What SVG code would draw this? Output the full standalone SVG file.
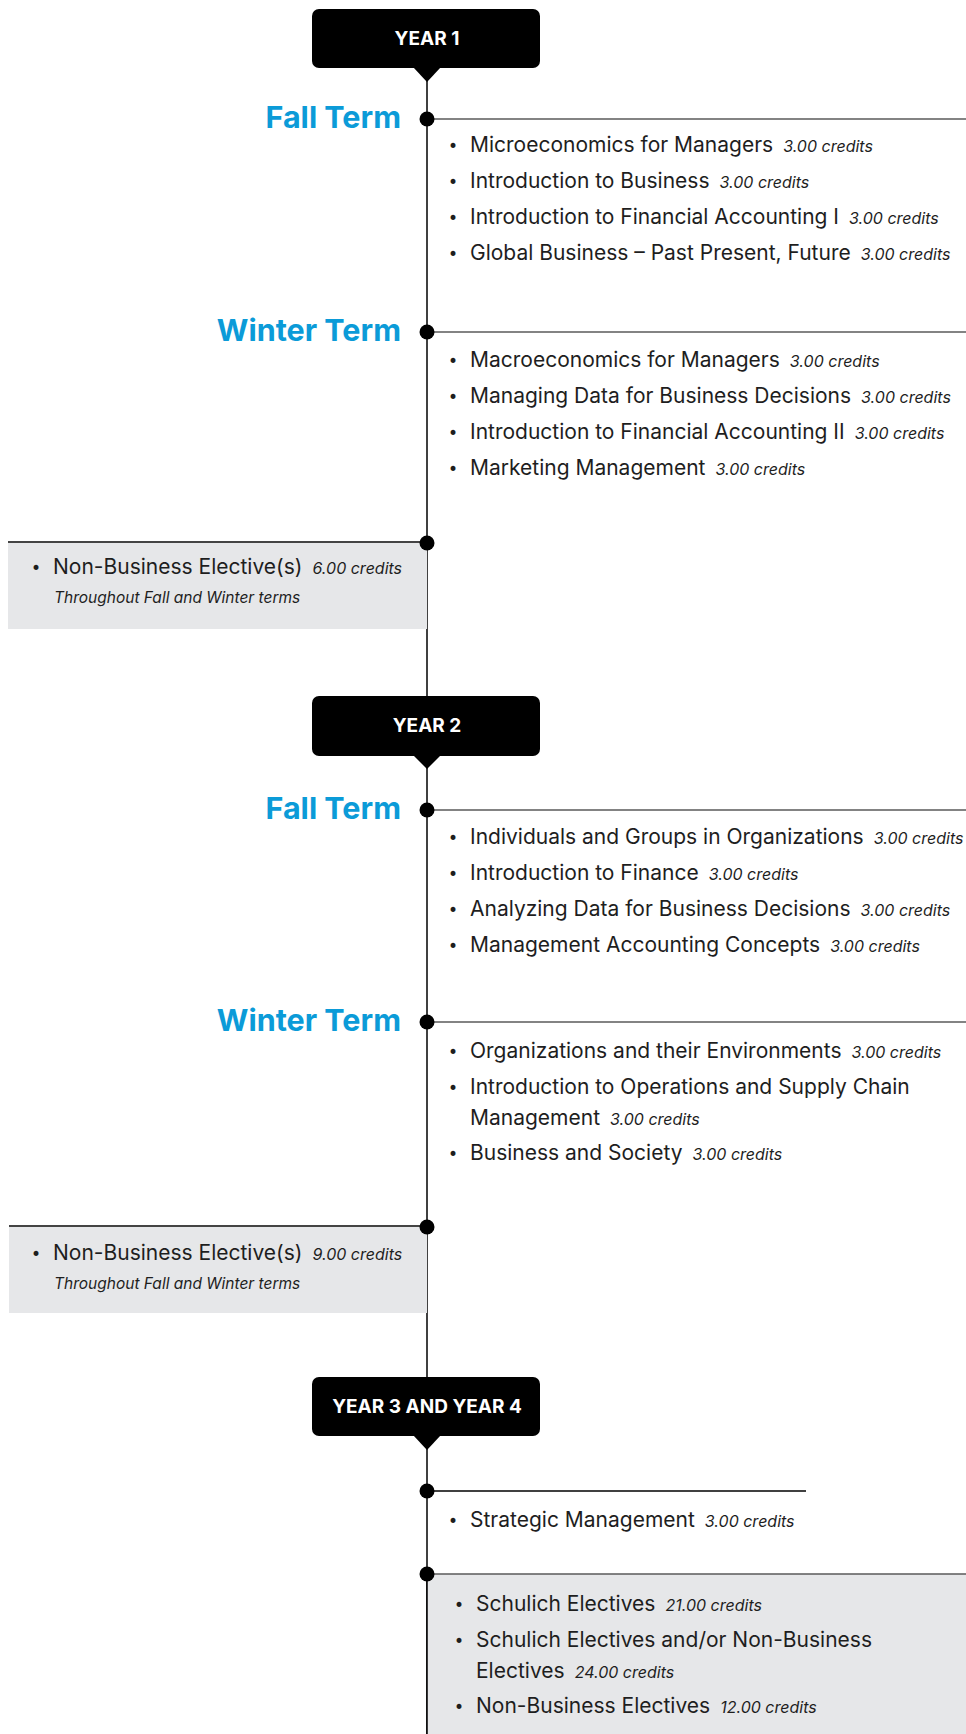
<svg xmlns="http://www.w3.org/2000/svg" width="966" height="1734" viewBox="0 0 966 1734">
<defs>
<style>
.it{font-family:Inter,"Noto Sans","Liberation Sans",sans-serif;font-size:21px;fill:#1e1e1e}
.cr{font-style:italic;font-size:16px}
.sub{font-family:Inter,"Noto Sans","Liberation Sans",sans-serif;font-style:italic;font-size:15.5px;fill:#1e1e1e}
.bu{font-family:"DejaVu Sans",sans-serif;font-size:17px;fill:#1e1e1e}
.term{font-family:Inter,"Noto Sans","Liberation Sans",sans-serif;font-weight:700;font-size:30.5px;fill:#0b9bd8;text-anchor:end}
.yr{font-family:Inter,"Noto Sans","Liberation Sans",sans-serif;font-weight:700;font-size:19px;fill:#fff;text-anchor:middle}
.hl{stroke:#5a5a5a;stroke-width:1.6;fill:none}
.dot{fill:#000}
.box{fill:#e6e7e9}
.tag{fill:#000}
</style>
</defs>
<g id="connectors">
<line x1="427" y1="68" x2="427" y2="1734" stroke="#000" stroke-width="1.5"/>
<line class="hl" x1="427" y1="119" x2="966" y2="119"/>
<line class="hl" x1="427" y1="332" x2="966" y2="332"/>
<line class="hl" x1="427" y1="810" x2="966" y2="810"/>
<line class="hl" x1="427" y1="1022" x2="966" y2="1022"/>
<line x1="427" y1="1491" x2="806" y2="1491" stroke="#000" stroke-width="1.3"/>
</g>
<g id="year1">
<rect class="tag" x="312" y="9" width="228" height="59" rx="7"/>
<polygon class="tag" points="413,67 441,67 427,82"/>
<text class="yr" x="427" y="45">YEAR 1</text>
</g>
<g id="y1-fall">
<circle class="dot" cx="427" cy="119" r="7.5"/>
<text class="term" x="401" y="128">Fall Term</text>
<text class="bu" x="448" y="152">•</text>
<text class="it" x="470" y="152">Microeconomics for Managers<tspan class="cr" dx="10">3.00 credits</tspan></text>
<text class="bu" x="448" y="188">•</text>
<text class="it" x="470" y="188">Introduction to Business<tspan class="cr" dx="10">3.00 credits</tspan></text>
<text class="bu" x="448" y="224">•</text>
<text class="it" x="470" y="224">Introduction to Financial Accounting I<tspan class="cr" dx="10">3.00 credits</tspan></text>
<text class="bu" x="448" y="260">•</text>
<text class="it" x="470" y="260">Global Business – Past Present, Future<tspan class="cr" dx="10">3.00 credits</tspan></text>
</g>
<g id="y1-winter">
<circle class="dot" cx="427" cy="332" r="7.5"/>
<text class="term" x="401" y="341">Winter Term</text>
<text class="bu" x="448" y="367">•</text>
<text class="it" x="470" y="367">Macroeconomics for Managers<tspan class="cr" dx="10">3.00 credits</tspan></text>
<text class="bu" x="448" y="403">•</text>
<text class="it" x="470" y="403">Managing Data for Business Decisions<tspan class="cr" dx="10">3.00 credits</tspan></text>
<text class="bu" x="448" y="439">•</text>
<text class="it" x="470" y="439">Introduction to Financial Accounting II<tspan class="cr" dx="10">3.00 credits</tspan></text>
<text class="bu" x="448" y="475">•</text>
<text class="it" x="470" y="475">Marketing Management<tspan class="cr" dx="10">3.00 credits</tspan></text>
</g>
<g id="y1-nonbusiness">
<rect class="box" x="8" y="542" width="419" height="87"/>
<line x1="8" y1="542" x2="427" y2="542" stroke="#444" stroke-width="2"/>
<circle class="dot" cx="427" cy="543" r="7.5"/>
<text class="bu" x="31" y="574">•</text>
<text class="it" x="53" y="574">Non-Business Elective(s)<tspan class="cr" dx="10">6.00 credits</tspan></text>
<text class="sub" x="54" y="603">Throughout Fall and Winter terms</text>
</g>
<g id="year2">
<rect class="tag" x="312" y="696" width="228" height="60" rx="7"/>
<polygon class="tag" points="413,755 441,755 427,769"/>
<text class="yr" x="427" y="732">YEAR 2</text>
</g>
<g id="y2-fall">
<circle class="dot" cx="427" cy="810" r="7.5"/>
<text class="term" x="401" y="819">Fall Term</text>
<text class="bu" x="448" y="844">•</text>
<text class="it" x="470" y="844">Individuals and Groups in Organizations<tspan class="cr" dx="10">3.00 credits</tspan></text>
<text class="bu" x="448" y="880">•</text>
<text class="it" x="470" y="880">Introduction to Finance<tspan class="cr" dx="10">3.00 credits</tspan></text>
<text class="bu" x="448" y="916">•</text>
<text class="it" x="470" y="916">Analyzing Data for Business Decisions<tspan class="cr" dx="10">3.00 credits</tspan></text>
<text class="bu" x="448" y="952">•</text>
<text class="it" x="470" y="952">Management Accounting Concepts<tspan class="cr" dx="10">3.00 credits</tspan></text>
</g>
<g id="y2-winter">
<circle class="dot" cx="427" cy="1022" r="7.5"/>
<text class="term" x="401" y="1031">Winter Term</text>
<text class="bu" x="448" y="1058">•</text>
<text class="it" x="470" y="1058">Organizations and their Environments<tspan class="cr" dx="10">3.00 credits</tspan></text>
<text class="bu" x="448" y="1094">•</text>
<text class="it" x="470" y="1094">Introduction to Operations and Supply Chain</text>
<text class="it" x="470" y="1125">Management<tspan class="cr" dx="10">3.00 credits</tspan></text>
<text class="bu" x="448" y="1160">•</text>
<text class="it" x="470" y="1160">Business and Society<tspan class="cr" dx="10">3.00 credits</tspan></text>
</g>
<g id="y2-nonbusiness">
<rect class="box" x="9" y="1226" width="418" height="87"/>
<line x1="9" y1="1226" x2="427" y2="1226" stroke="#444" stroke-width="2"/>
<circle class="dot" cx="427" cy="1227" r="7.5"/>
<text class="bu" x="31" y="1260">•</text>
<text class="it" x="53" y="1260">Non-Business Elective(s)<tspan class="cr" dx="10">9.00 credits</tspan></text>
<text class="sub" x="54" y="1289">Throughout Fall and Winter terms</text>
</g>
<g id="year3-4">
<rect class="tag" x="312" y="1377" width="228" height="59" rx="7"/>
<polygon class="tag" points="413,1435 441,1435 427,1450"/>
<text class="yr" x="427" y="1413">YEAR 3 AND YEAR 4</text>
</g>
<g id="y34-core">
<circle class="dot" cx="427" cy="1491" r="7.5"/>
<text class="bu" x="448" y="1527">•</text>
<text class="it" x="470" y="1527">Strategic Management<tspan class="cr" dx="10">3.00 credits</tspan></text>
</g>
<g id="y34-electives">
<rect class="box" x="427" y="1574" width="539" height="160"/>
<line x1="427" y1="1574" x2="966" y2="1574" stroke="#5a5a5a" stroke-width="1.6"/>
<line x1="427" y1="1574" x2="427" y2="1734" stroke="#000" stroke-width="1.5"/>
<circle class="dot" cx="427" cy="1574" r="7.5"/>
<text class="bu" x="454" y="1611">•</text>
<text class="it" x="476" y="1611">Schulich Electives<tspan class="cr" dx="10">21.00 credits</tspan></text>
<text class="bu" x="454" y="1647">•</text>
<text class="it" x="476" y="1647">Schulich Electives and/or Non-Business</text>
<text class="it" x="476" y="1678">Electives<tspan class="cr" dx="10">24.00 credits</tspan></text>
<text class="bu" x="454" y="1713">•</text>
<text class="it" x="476" y="1713">Non-Business Electives<tspan class="cr" dx="10">12.00 credits</tspan></text>
</g>
</svg>
